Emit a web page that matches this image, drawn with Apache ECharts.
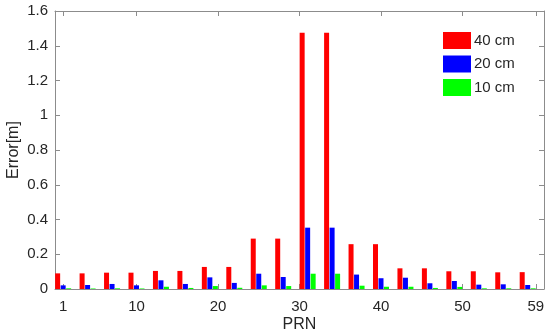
<!DOCTYPE html>
<html>
<head>
<meta charset="utf-8">
<script src="https://cdn.jsdelivr.net/npm/echarts@6/dist/echarts.min.js"></script>
<style>
html,body{margin:0;padding:0;background:#fff;}
#chart{width:550px;height:335px;}
</style>
</head>
<body>
<div id="chart"></div>
<script>
const prnPositions = [1,4,7,10,13,16,19,22,25,28,31,34,37,40,43,46,49,52,55,58];
const xTickValues = [1,10,20,30,40,50,59];
const seriesNames = ['40 cm','20 cm','10 cm'];
const err40 = [0.090,0.090,0.094,0.094,0.104,0.104,0.127,0.127,0.290,0.290,1.475,1.475,0.258,0.258,0.119,0.119,0.102,0.102,0.096,0.097];
const err20 = [0.021,0.023,0.029,0.021,0.050,0.029,0.067,0.035,0.088,0.069,0.353,0.353,0.083,0.062,0.065,0.033,0.046,0.025,0.027,0.023];
const err10 = [0.004,0.003,0.004,0.003,0.013,0.006,0.017,0.007,0.021,0.017,0.088,0.088,0.019,0.013,0.013,0.006,0.012,0.004,0.004,0.004];
const colors = ['#ff0000','#0000ff','#00ff00'];

const axisColor = '#8c8c8c';
const textColor = '#262626';
const font = 'Liberation Sans, Arial, sans-serif';

function pairs(vals){ return vals.map((v,i)=>[prnPositions[i], v]); }

const chart = echarts.init(document.getElementById('chart'), null, {renderer:'canvas'});
const option = {
  animation:false,
  backgroundColor:'#fff',
  textStyle:{fontFamily:font},
  grid:{left:55, right:6, top:11, bottom:46, containLabel:false, outerBoundsMode:'none'},
  legend:{
    orient:'vertical', left:443, top:32, padding:0,
    itemWidth:28, itemHeight:17, itemGap:6.5,
    textStyle:{fontSize:15, color:textColor, fontFamily:font, padding:[0,0,0,-2]},
    icon:'rect',
    data:seriesNames
  },
  xAxis:[{
    type:'value', min:0, max:60, position:'bottom',
    name:'PRN', nameLocation:'middle', nameGap:28, nameMoveOverlap:false,
    nameTextStyle:{fontSize:16, color:textColor, fontFamily:font},
    axisLine:{show:true, onZero:false, lineStyle:{color:axisColor, width:1}},
    axisTick:{show:true, inside:true, length:5, customValues:xTickValues, lineStyle:{color:axisColor}},
    axisLabel:{show:true, customValues:xTickValues, fontSize:15, color:textColor, margin:10, fontFamily:font},
    splitLine:{show:false}
  },{
    type:'value', min:0, max:60, position:'top',
    axisLine:{show:true, onZero:false, lineStyle:{color:axisColor, width:1}},
    axisTick:{show:true, inside:true, length:5, customValues:xTickValues, lineStyle:{color:axisColor}},
    axisLabel:{show:false},
    splitLine:{show:false}
  }],
  yAxis:[{
    type:'value', min:0, max:1.6, interval:0.2, position:'left',
    name:'Error[m]', nameLocation:'middle', nameGap:33, nameMoveOverlap:false,
    nameTextStyle:{fontSize:16, color:textColor, fontFamily:font},
    axisLine:{show:true, onZero:false, lineStyle:{color:axisColor, width:1}},
    axisTick:{show:true, inside:true, length:5, lineStyle:{color:axisColor}},
    axisLabel:{fontSize:15, color:textColor, margin:7, fontFamily:font},
    splitLine:{show:false}
  },{
    type:'value', min:0, max:1.6, interval:0.2, position:'right',
    axisLine:{show:true, onZero:false, lineStyle:{color:axisColor, width:1}},
    axisTick:{show:true, inside:true, length:5, lineStyle:{color:axisColor}},
    axisLabel:{show:false},
    splitLine:{show:false}
  }],
  series:[err40, err20, err10].map((vals,i)=>({
    name:seriesNames[i], type:'bar', xAxisIndex:0, yAxisIndex:0,
    barWidth:5, barGap:'10%',
    itemStyle:{color:colors[i]},
    data:pairs(vals)
  }))
};
chart.setOption(option);
</script>
</body>
</html>
